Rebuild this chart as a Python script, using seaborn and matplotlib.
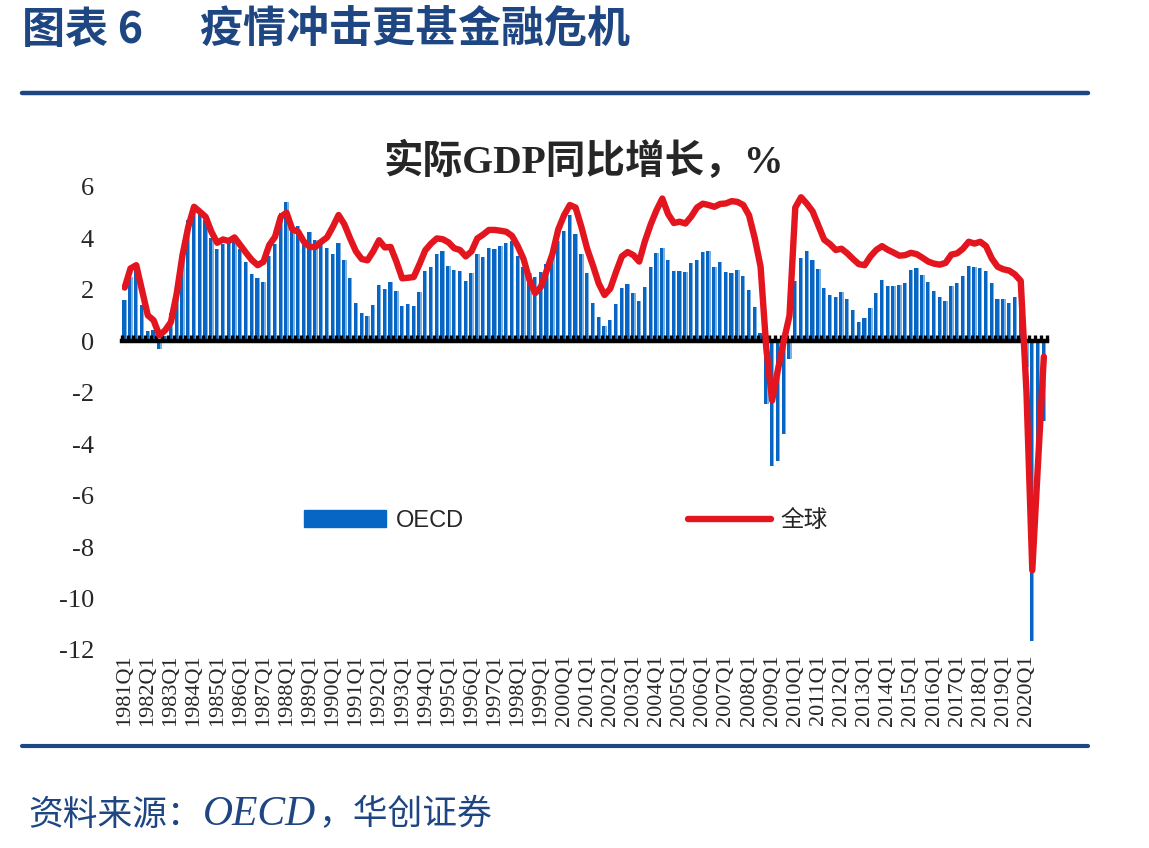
import numpy as np
import pandas as pd
import seaborn as sns
import matplotlib.pyplot as plt
from matplotlib.patches import Patch
from matplotlib.lines import Line2D

# quarterly real GDP growth, % y/y, 1981Q1 - 2020Q4
years = list(range(1981, 2021))
quarters = [f"{y}Q{q}" for y in years for q in range(1, 5)]
tick_labels = [f"{y}Q1" for y in years]

oecd = [
    1.6, 2.5, 2.8, 1.4,      # 1981
    0.4, 0.45, -0.3, 0.2,    # 1982
    1.1, 2.0, 3.5, 4.7,      # 1983
    5.3, 5.0, 4.7, 4.0,      # 1984
    3.6, 3.8, 3.9, 4.0,      # 1985
    3.6, 3.1, 2.6, 2.45,     # 1986
    2.3, 3.3, 3.8, 5.0,      # 1987
    5.4, 4.3, 4.5, 3.8,      # 1988
    4.26, 3.93, 3.87, 3.62,  # 1989
    3.39, 3.82, 3.15, 2.45,  # 1990
    1.49, 1.1, 0.99, 1.41,   # 1991
    2.2, 2.05, 2.31, 1.96,   # 1992
    1.38, 1.45, 1.38, 1.92,  # 1993
    2.73, 2.87, 3.41, 3.52,  # 1994
    2.93, 2.79, 2.75, 2.36,  # 1995
    2.67, 3.41, 3.28, 3.61,  # 1996
    3.57, 3.7, 3.84, 3.9,    # 1997
    3.3, 2.9, 2.67, 2.5,     # 1998
    2.7, 3.0, 3.35, 3.91,    # 1999
    4.3, 4.9, 4.17, 3.39,    # 2000
    2.64, 1.5, 0.96, 0.58,   # 2001
    0.84, 1.47, 2.08, 2.21,  # 2002
    1.86, 1.57, 2.12, 2.9,   # 2003
    3.45, 3.64, 3.18, 2.75,  # 2004
    2.75, 2.71, 3.05, 3.16,  # 2005
    3.47, 3.5, 2.9, 3.07,    # 2006
    2.71, 2.66, 2.79, 2.55,  # 2007
    1.99, 1.34, 0.33, -2.43, # 2008
    -4.83, -4.64, -3.6, -0.7,  # 2009
    2.34, 3.22, 3.5, 3.16,   # 2010
    2.83, 2.08, 1.8, 1.73,   # 2011
    1.92, 1.66, 1.22, 0.75,  # 2012
    0.91, 1.3, 1.88, 2.4,    # 2013
    2.15, 2.15, 2.18, 2.27,  # 2014
    2.78, 2.86, 2.58, 2.32,  # 2015
    1.97, 1.73, 1.57, 2.17,  # 2016
    2.25, 2.55, 2.93, 2.9,   # 2017
    2.86, 2.75, 2.25, 1.66,  # 2018
    1.66, 1.49, 1.73, 1.2,   # 2019
    -1.0, -11.65, -4.2, -3.1,  # 2020
]

world = [
    2.09, 2.83, 2.96, 1.99,  # 1981
    1.01, 0.82, 0.23, 0.43,  # 1982
    0.75, 1.86, 3.35, 4.45,  # 1983
    5.23, 5.04, 4.84, 4.26,  # 1984
    3.83, 3.96, 3.9, 4.04,   # 1985
    3.74, 3.44, 3.16, 2.96,  # 1986
    3.09, 3.74, 4.06, 4.84,  # 1987
    5.0, 4.35, 4.26, 3.87,   # 1988
    3.67, 3.67, 3.87, 4.04,  # 1989
    4.45, 4.91, 4.55, 4.0,   # 1990
    3.5, 3.2, 3.15, 3.5,     # 1991
    3.93, 3.65, 3.67, 3.1,   # 1992
    2.45, 2.47, 2.5, 3.0,    # 1993
    3.54, 3.8, 4.0, 3.97,    # 1994
    3.85, 3.62, 3.55, 3.3,   # 1995
    3.5, 4.0, 4.15, 4.33,    # 1996
    4.33, 4.3, 4.26, 4.1,    # 1997
    3.7, 3.2, 2.4, 1.87,     # 1998
    2.12, 2.75, 3.4, 4.35,   # 1999
    4.9, 5.3, 5.2, 4.45,     # 2000
    3.6, 2.95, 2.25, 1.8,    # 2001
    2.05, 2.7, 3.3, 3.47,    # 2002
    3.35, 3.1, 3.9, 4.55,    # 2003
    5.1, 5.55, 4.95, 4.6,    # 2004
    4.65, 4.58, 4.85, 5.2,   # 2005
    5.35, 5.3, 5.23, 5.34,   # 2006
    5.36, 5.45, 5.42, 5.3,   # 2007
    4.9, 4.0, 2.9, -0.3,     # 2008
    -2.3, -1.1, 0.0, 1.0,    # 2009
    5.2, 5.6, 5.35, 5.05,    # 2010
    4.5, 3.95, 3.78, 3.55,   # 2011
    3.6, 3.42, 3.2, 3.0,     # 2012
    2.96, 3.3, 3.55, 3.7,    # 2013
    3.56, 3.45, 3.33, 3.35,  # 2014
    3.44, 3.39, 3.25, 3.1,   # 2015
    3.02, 2.98, 3.05, 3.37,  # 2016
    3.42, 3.6, 3.87, 3.8,    # 2017
    3.87, 3.7, 3.22, 2.9,    # 2018
    2.8, 2.75, 2.6, 2.35,    # 2019
    -2.0, -8.9, -4.7, -0.6,  # 2020
]

yticks = [6, 4, 2, 0, -2, -4, -6, -8, -10, -12]

navy = "#1E4682"
dark_blue = "#0766C4"
light_blue = "#7DB1E2"
red = "#E3161F"

sns.set_style("white")
plt.rcParams["font.family"] = ["Liberation Serif", "Noto Sans CJK SC"]
plt.rcParams["axes.unicode_minus"] = False

df = pd.DataFrame({"quarter": quarters, "oecd": oecd, "world": world})
df["pos"] = np.arange(len(df))

fig = plt.figure(figsize=(11.49, 8.48), dpi=100)
ax = fig.add_axes([0.106, 0.2335, 0.805, 0.546])

# bars: light strip underneath, dark body shifted left
sns.barplot(data=df, x="quarter", y="oecd", color=light_blue, saturation=1,
            width=0.76, linewidth=0, edgecolor="none", ax=ax)
n_light = len(ax.patches)
sns.barplot(data=df, x="quarter", y="oecd", color=dark_blue, saturation=1,
            width=0.54, linewidth=0, edgecolor="none", ax=ax)
for p in ax.patches[n_light:]:
    p.set_x(p.get_x() - 0.11)

sns.lineplot(data=df, x="pos", y="world", color=red, lw=4.6, ax=ax,
             solid_joinstyle="round", solid_capstyle="round", zorder=5)

ax.set_xlim(-0.5, len(df) - 0.5)
ax.set_ylim(-12, 6)
ax.set_xlabel("")
ax.set_ylabel("")
for s in ax.spines.values():
    s.set_visible(False)

ax.set_yticks(yticks)
ax.set_yticklabels([str(v) for v in yticks])
ax.tick_params(axis="y", length=0, pad=20, labelsize=19)
ax.set_xticks(np.arange(0, len(df), 4))
ax.set_xticklabels(tick_labels, rotation=90, fontsize=16)
ax.tick_params(axis="x", length=0, pad=3)

# zero line with small tick marks between quarters
zero = ax.secondary_xaxis(12 / 18)
zero.set_zorder(3)
zero.set_xticks(np.arange(-0.5, len(df), 1))
zero.tick_params(direction="out", length=4.5, width=2.4, color="black",
                 labeltop=False, labelbottom=False)
for s in zero.spines.values():
    s.set_linewidth(3.2)
    s.set_color("black")

handles = [Patch(facecolor=dark_blue, edgecolor=dark_blue),
           Line2D([], [], color=red, lw=4.6)]
ax.legend(handles, ["OECD", "全球"], ncol=2, frameon=False, loc="center",
          bbox_to_anchor=(0.48, 0.279), handlelength=3.5, handleheight=0.7,
          columnspacing=9.5, handletextpad=0.4,
          prop={"family": ["Liberation Sans", "Noto Sans CJK SC"], "size": 17})

fig.text(0.508, 1 - 162 / 848, "实际GDP同比增长，%", ha="center", va="center",
         fontsize=28.5, fontweight="bold",
         family=["Liberation Serif", "Noto Sans CJK SC"])

fig.text(22 / 1149, 1 - 30 / 848, "图表 6", ha="left",
         va="center", fontsize=31, fontweight="bold", color=navy,
         family=["Noto Sans CJK SC", "Liberation Serif"])
fig.text(200 / 1149, 1 - 30 / 848, "疫情冲击更甚金融危机", ha="left",
         va="center", fontsize=31, fontweight="bold", color=navy,
         family=["Noto Sans CJK SC", "Liberation Serif"])

# source line
fig.text(28 / 1149, 1 - 815 / 848, "资料来源：", ha="left", va="center",
         fontsize=25, color=navy, family=["Noto Sans CJK SC"])
fig.text(203 / 1149, 1 - 815 / 848, "OECD", ha="left", va="center",
         fontsize=30, color=navy, style="italic", family=["Liberation Serif"])
fig.text(318 / 1149, 1 - 815 / 848, "，华创证券", ha="left", va="center",
         fontsize=25, color=navy, family=["Noto Sans CJK SC"])

for yy, lw in [(93, 3.2), (746, 3.0)]:
    fig.add_artist(Line2D([22 / 1149, 1088 / 1149], [1 - yy / 848] * 2,
                          color=navy, lw=lw, transform=fig.transFigure))

fig.savefig("out.png", dpi=100)
